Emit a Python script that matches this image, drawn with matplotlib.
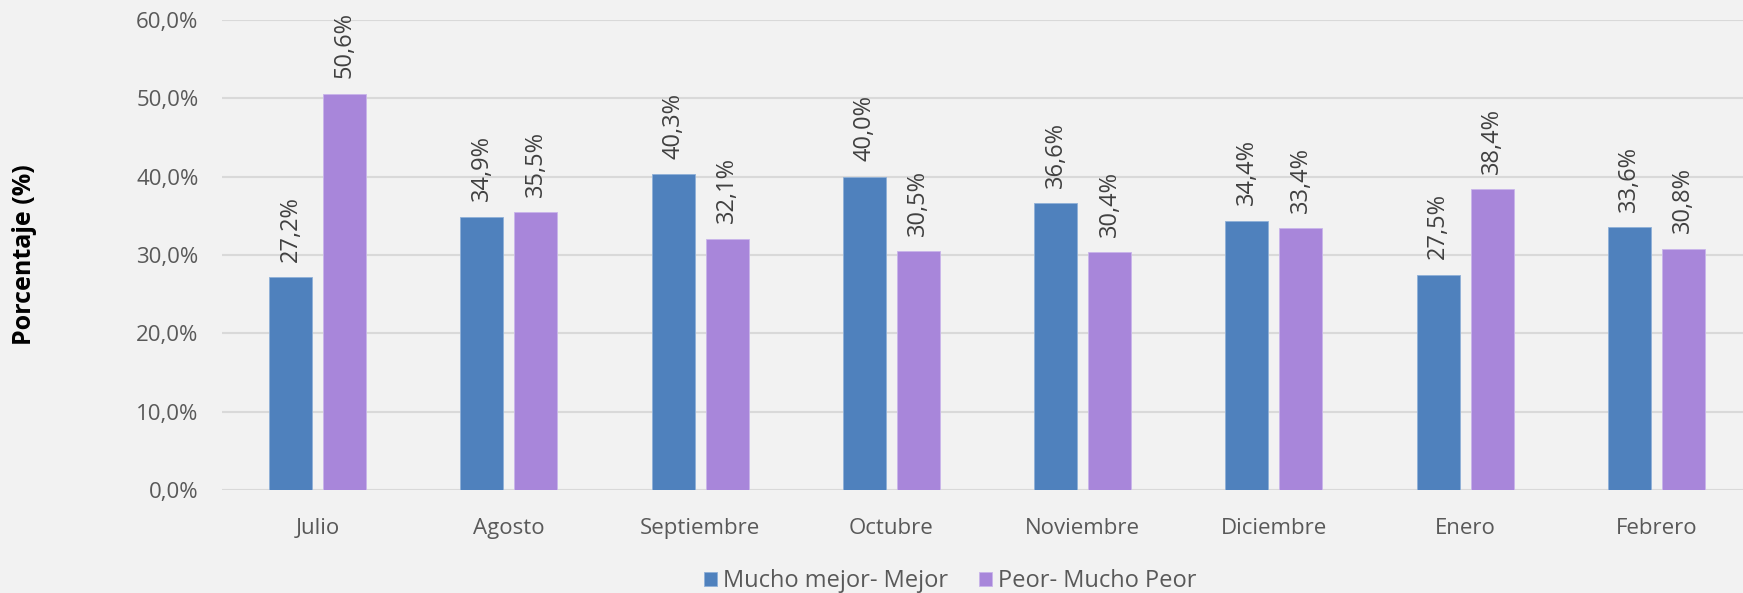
import matplotlib.pyplot as plt
import numpy as np

plt.rcParams['font.family'] = ['Open Sans', 'DejaVu Sans']

meses = ['Julio', 'Agosto', 'Septiembre', 'Octubre', 'Noviembre', 'Diciembre', 'Enero', 'Febrero']
mejor = [27.2, 34.9, 40.3, 40.0, 36.6, 34.4, 27.5, 33.6]
peor = [50.6, 35.5, 32.1, 30.5, 30.4, 33.4, 38.4, 30.8]
series_names = ['Mucho mejor- Mejor', 'Peor- Mucho Peor']
yticks = [0, 10, 20, 30, 40, 50, 60]

azul = '#4F81BD'
morado = '#A886DA'
bg = '#F2F2F2'

fig = plt.figure(figsize=(17.43, 5.93), dpi=100, facecolor=bg)
ax = fig.add_axes([222 / 1743, 1 - 490 / 593, 1530 / 1743, 470 / 593])
ax.set_facecolor(bg)

x = np.arange(len(meses))
w = 0.225
off = 0.141
b1 = ax.bar(x - off, mejor, w, color=azul, edgecolor='#8FB0D8', linewidth=0.6,
            label=series_names[0], zorder=3)
b2 = ax.bar(x + off, peor, w, color=morado, edgecolor='#C9B5EA', linewidth=0.6,
            label=series_names[1], zorder=3)

for bars, vals in ((b1, mejor), (b2, peor)):
    for r, v in zip(bars, vals):
        ax.annotate(f'{v:.1f}%'.replace('.', ','),
                    (r.get_x() + r.get_width() / 2, v),
                    xytext=(0, 11), textcoords='offset points',
                    rotation=90, ha='center', va='bottom',
                    fontsize=17, color='#404040')

ax.set_xlim(-0.5, len(meses) - 0.5)
ax.set_ylim(0, 60)
ax.set_yticks(yticks)
ax.set_yticklabels([f'{t:.1f}%'.replace('.', ',') for t in yticks])
ax.set_xticks(x)
ax.set_xticklabels(meses)
ax.tick_params(axis='both', length=0, labelsize=16, labelcolor='#595959')
ax.tick_params(axis='y', pad=17)
ax.tick_params(axis='x', pad=20)
ax.grid(axis='y', color='#D9D9D9', linewidth=1.5, zorder=0)
for s in ax.spines.values():
    s.set_visible(False)

fig.text(25 / 1743, 1 - 255 / 593, 'Porcentaje (%)', rotation=90, ha='center',
         va='center', fontsize=18, fontweight='bold', color='black')

fig.legend(handles=[b1, b2], loc='center', bbox_to_anchor=(950 / 1743, 1 - 581 / 593),
           ncol=2, frameon=False, fontsize=17, labelcolor='#595959',
           handlelength=0.55, handleheight=0.55, handletextpad=0.25, columnspacing=1.3)

fig.savefig('out.png', dpi=100, facecolor=bg)
